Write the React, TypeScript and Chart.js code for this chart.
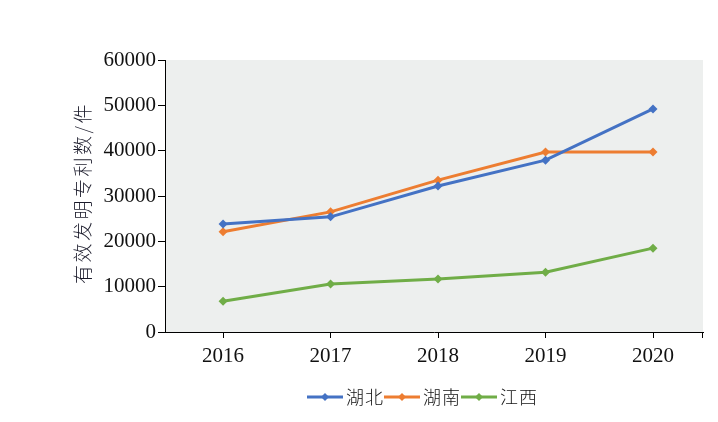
import React, { useEffect, useRef } from "react";
import { Chart, registerables } from "chart.js";

Chart.register(...registerables);

const categories = ["2016", "2017", "2018", "2019", "2020"];
const hubei = [23800, 25400, 32200, 37900, 49200];
const hunan = [22100, 26500, 33500, 39700, 39700];
const jiangxi = [6800, 10600, 11700, 13200, 18500];
const seriesNames = ["湖北", "湖南", "江西"];
const seriesColors = ["#4472C4", "#ED7D31", "#70AD47"];
const yTitle = "有效发明专利数/件";

const SERIF = "'Liberation Serif', 'Times New Roman', serif";
const CJK = "'Noto Sans CJK SC', sans-serif";

export default function App() {
  const ref = useRef<HTMLCanvasElement | null>(null);
  useEffect(() => {
    document.body.style.margin = "0";
    const canvas = ref.current!;
    const bgPlugin = {
      id: "bg",
      beforeDraw(chart: any) {
        const { ctx, chartArea } = chart;
        ctx.save();
        ctx.fillStyle = "#EDEFEE";
        ctx.fillRect(chartArea.left, chartArea.top, chartArea.right - chartArea.left, chartArea.bottom - chartArea.top);
        ctx.restore();
      },
      afterDraw(chart: any) {
        const { ctx, chartArea } = chart;
        ctx.save();
        ctx.strokeStyle = "#000";
        ctx.lineWidth = 1;
        ctx.beginPath();
        ctx.moveTo(chartArea.right - 0.5, chartArea.bottom);
        ctx.lineTo(chartArea.right - 0.5, chartArea.bottom + 6);
        ctx.stroke();
        ctx.translate(83, 193);
        ctx.rotate(-Math.PI / 2);
        ctx.fillStyle = "#1a1a2a";
        ctx.font = `300 19px ${CJK}`;
        (ctx as any).letterSpacing = "2.5px";
        ctx.textAlign = "center";
        ctx.textBaseline = "middle";
        ctx.fillText(yTitle, 0, 0);
        ctx.restore();
        ctx.save();
        const starts = [307, 384, 461];
        const y = 397;
        ctx.font = `300 18px ${CJK}`;
        (ctx as any).letterSpacing = "1px";
        ctx.textBaseline = "middle";
        seriesNames.forEach((n, i) => {
          const x0 = starts[i];
          ctx.strokeStyle = seriesColors[i];
          ctx.lineWidth = 3;
          ctx.beginPath();
          ctx.moveTo(x0, y);
          ctx.lineTo(x0 + 36, y);
          ctx.stroke();
          ctx.fillStyle = seriesColors[i];
          ctx.beginPath();
          const cx = x0 + 18;
          ctx.moveTo(cx, y - 4);
          ctx.lineTo(cx + 4, y);
          ctx.lineTo(cx, y + 4);
          ctx.lineTo(cx - 4, y);
          ctx.closePath();
          ctx.fill();
          ctx.fillStyle = "#111";
          ctx.fillText(n, x0 + 39, y);
        });
        ctx.restore();
      },
    };
    const mk = (label: string, data: number[], color: string) => ({
      label,
      data: data.map((v, i) => ({ x: i, y: v })),
      borderColor: color,
      backgroundColor: color,
      borderWidth: 3,
      pointStyle: "rectRot" as const,
      pointRadius: 4.5,
      pointBorderWidth: 0,
      tension: 0,
    });
    const chart = new Chart(canvas, {
      type: "line",
      data: {
        datasets: [
          mk(seriesNames[0], hubei, seriesColors[0]),
          mk(seriesNames[1], hunan, seriesColors[1]),
          mk(seriesNames[2], jiangxi, seriesColors[2]),
        ],
      },
      options: {
        animation: false,
        responsive: false,
        devicePixelRatio: 1,
        layout: { padding: { left: 0, right: 15, top: 60, bottom: 0 } },
        plugins: { legend: { display: false }, tooltip: { enabled: false } },
        scales: {
          x: {
            type: "linear",
            min: -0.54,
            max: 4.465,
            afterBuildTicks: (s: any) => {
              s.ticks = categories.map((_, i) => ({ value: i }));
            },
            grid: { drawOnChartArea: false, drawTicks: true, tickLength: 6, color: "#000" },
            border: { color: "#000", width: 1 },
            ticks: {
              color: "#111",
              font: { family: SERIF, size: 21 },
              padding: 6,
              maxRotation: 0,
              autoSkip: false,
              callback: (v: any) => categories[Math.round(Number(v))] ?? "",
            },
            afterFit: (s: any) => { s.height = 90; },
          },
          y: {
            min: 0,
            max: 60000,
            ticks: {
              stepSize: 10000,
              color: "#111",
              font: { family: SERIF, size: 21 },
              padding: 2,
              callback: (v: any) => String(v),
            },
            grid: { drawOnChartArea: false, drawTicks: true, tickLength: 7, color: "#000" },
            border: { color: "#000", width: 1 },
            afterFit: (s: any) => { s.width = 165; },
          },
        },
      },
      plugins: [bgPlugin],
    });
    return () => chart.destroy();
  }, []);
  return <canvas ref={ref} width={718} height={422} style={{ display: "block" }} />;
}
